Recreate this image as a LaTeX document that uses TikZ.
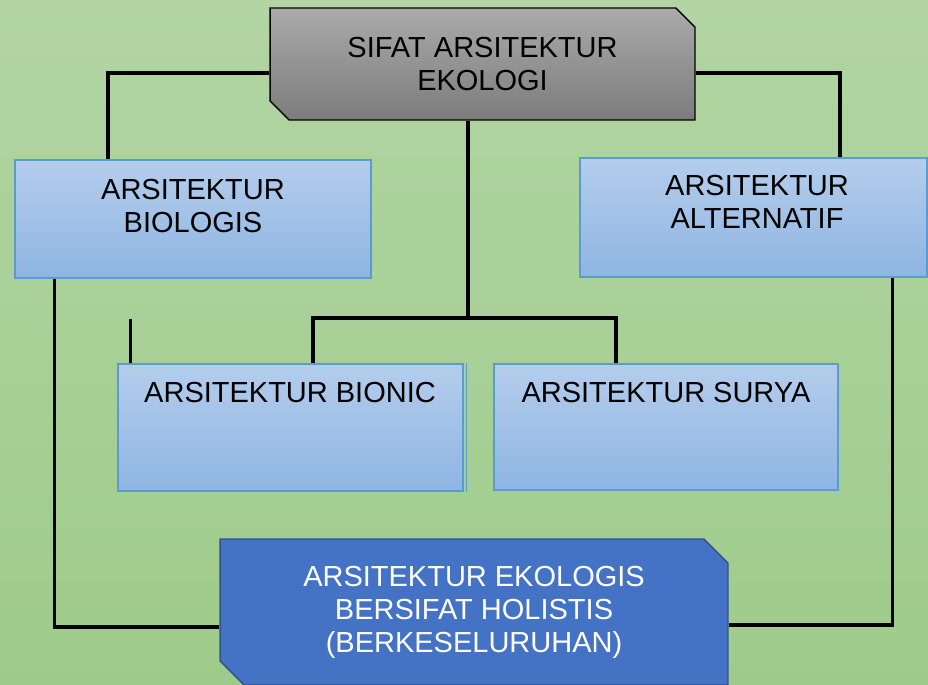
\documentclass[tikz,border=0pt]{standalone}
\usepackage{fontspec}
\setmainfont{Liberation Sans}
\usepackage{tikz}
\usetikzlibrary{calc}
\usetikzlibrary{shapes}
\definecolor{bgtop}{RGB}{178,213,163}
\definecolor{bgbot}{RGB}{158,203,139}
\definecolor{graytop}{RGB}{170,170,170}
\definecolor{graybot}{RGB}{124,124,124}
\definecolor{bluetop}{RGB}{180,205,236}
\definecolor{bluebot}{RGB}{142,181,226}
\definecolor{boxline}{RGB}{91,155,213}
\definecolor{darkblue}{RGB}{68,114,196}
\definecolor{darkline}{RGB}{47,82,143}

\begin{document}
\begin{tikzpicture}[x=0.02cm, y=-0.02cm,
    every node/.style={font=\fontsize{16.5}{18.8}\selectfont},
    bluebox/.style={draw=boxline, line width=0.8pt, top color=bluetop, bottom color=bluebot},
    cutbox/.style={chamfered rectangle, chamfered rectangle corners={north east, south west}},
    txt/.style={align=center},
    link/.style={line width=2pt}
    ]
    \shade[top color=bgtop, bottom color=bgbot] (0,0) rectangle (928,684);
    \useasboundingbox (0,0) rectangle (928,684);
    \node[cutbox, chamfered rectangle xsep=0.19cm, chamfered rectangle ysep=0.19cm,
      draw, line width=0.8pt, top color=graytop, bottom color=graybot,
      minimum width=8.5cm, minimum height=2.24cm, txt] (sifat) at (482.5,64) {SIFAT ARSITEKTUR\\EKOLOGI};
    \node[bluebox, minimum width=7.12cm, minimum height=2.36cm] (biologis) at (193,219) {};
    \node[txt] (biologistext) at (193,206) {ARSITEKTUR\\BIOLOGIS};
    \node[bluebox, minimum width=6.94cm, minimum height=2.38cm] (alternatif) at (753.5,217.5) {};
    \node[txt] (alternatiftext) at (757,202) {ARSITEKTUR\\ALTERNATIF};
    \node[bluebox, minimum width=6.9cm, minimum height=2.54cm] (bionic) at (290.5,427.5) {};
    \node[txt] (bionictext) at (290,393) {ARSITEKTUR BIONIC};
    \node[bluebox, minimum width=6.88cm, minimum height=2.52cm] (surya) at (666,427) {};
    \node[txt] (suryatext) at (666,393) {ARSITEKTUR SURYA};
    \node[cutbox, chamfered rectangle xsep=0.24cm, chamfered rectangle ysep=0.24cm,
      draw=darkline, line width=0.8pt, fill=darkblue, text=white,
      minimum width=10.16cm, minimum height=2.92cm, txt] (holistis) at (474,612)
      {ARSITEKTUR EKOLOGIS\\BERSIFAT HOLISTIS\\(BERKESELURUHAN)};
    \draw[boxline, line width=0.6pt] ([xshift=0.06cm]bionic.north east) -- ([xshift=0.06cm]bionic.south east);
    \coordinate (split) at (468,318);
    \draw[link] ([yshift=-0.18cm]sifat.west) -| ([xshift=-1.7cm]biologis.north);
    \draw[link] ([yshift=-0.18cm]sifat.east) -| ([xshift=1.73cm]alternatif.north);
    \draw[link] (sifat.south -| split) -- (split);
    \draw[link] ([xshift=0.45cm]bionic.north) |- (split) -| ([xshift=-1cm]surya.north);
    \draw[link] ([xshift=0.26cm]bionic.north west) -- ++(0,-44);
    \draw[link] ([xshift=0.8cm]biologis.south west) |- ([yshift=-0.3cm]holistis.west);
    \draw[link] ([xshift=-0.7cm]alternatif.south east) |- ([yshift=-0.26cm]holistis.east);
  \end{tikzpicture}
\end{document}
